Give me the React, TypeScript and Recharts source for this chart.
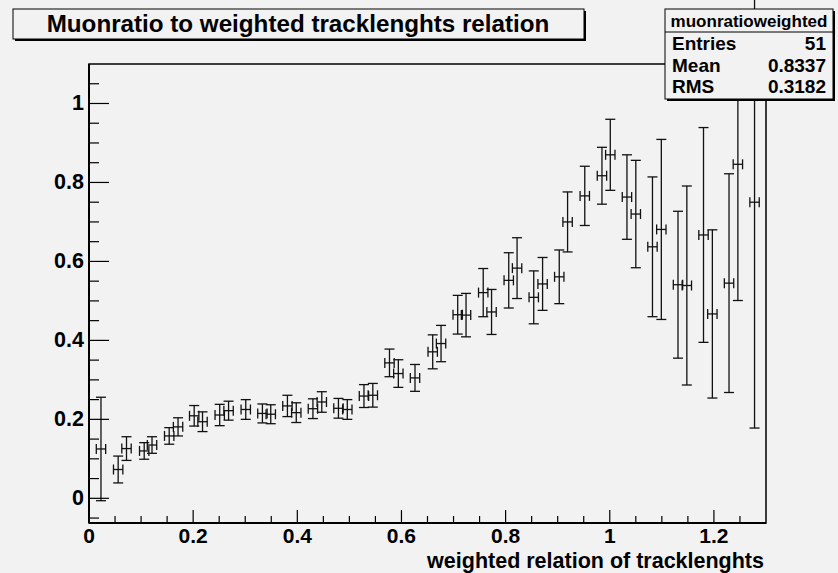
import React from 'react';
import { ComposedChart, Scatter, XAxis, YAxis, ErrorBar, ReferenceArea } from 'recharts';

const xValues = [0.023, 0.056, 0.072, 0.106, 0.121, 0.154, 0.171, 0.202, 0.218, 0.251, 0.268, 0.301, 0.333, 0.349, 0.381, 0.398, 0.430, 0.447, 0.479, 0.496, 0.528, 0.545, 0.577, 0.594, 0.626, 0.660, 0.676, 0.708, 0.724, 0.757, 0.773, 0.806, 0.822, 0.854, 0.871, 0.903, 0.919, 0.952, 0.985, 1.001, 1.033, 1.050, 1.082, 1.099, 1.131, 1.148, 1.180, 1.197, 1.229, 1.246, 1.278];
const yValues = [0.125, 0.073, 0.126, 0.120, 0.135, 0.158, 0.181, 0.209, 0.194, 0.211, 0.222, 0.225, 0.215, 0.213, 0.234, 0.217, 0.227, 0.244, 0.228, 0.225, 0.259, 0.261, 0.343, 0.316, 0.305, 0.371, 0.392, 0.465, 0.464, 0.521, 0.472, 0.552, 0.583, 0.509, 0.543, 0.561, 0.700, 0.766, 0.817, 0.870, 0.763, 0.720, 0.637, 0.681, 0.541, 0.539, 0.667, 0.467, 0.545, 0.846, 0.750];
const yErrors = [0.131, 0.034, 0.030, 0.021, 0.021, 0.021, 0.023, 0.026, 0.025, 0.027, 0.024, 0.025, 0.024, 0.024, 0.027, 0.025, 0.025, 0.026, 0.025, 0.025, 0.029, 0.030, 0.035, 0.035, 0.034, 0.043, 0.046, 0.049, 0.055, 0.061, 0.057, 0.070, 0.077, 0.067, 0.067, 0.068, 0.076, 0.075, 0.072, 0.090, 0.107, 0.136, 0.177, 0.228, 0.186, 0.252, 0.272, 0.213, 0.277, 0.345, 0.572];
const xError = 0.009;

const xTicks = [0, 0.05, 0.1, 0.15, 0.2, 0.25, 0.3, 0.35, 0.4, 0.45, 0.5, 0.55, 0.6, 0.65, 0.7, 0.75, 0.8, 0.85, 0.9, 0.95, 1, 1.05, 1.1, 1.15, 1.2, 1.25];
const yTicks = [-0.05, 0, 0.05, 0.1, 0.15, 0.2, 0.25, 0.3, 0.35, 0.4, 0.45, 0.5, 0.55, 0.6, 0.65, 0.7, 0.75, 0.8, 0.85, 0.9, 0.95, 1, 1.05];

const titleText = 'Muonratio to weighted tracklenghts relation';
const xAxisTitle = 'weighted relation of tracklenghts';
const statName = 'muonratioweighted';
const statRows = [
  ['Entries', '51'],
  ['Mean', '0.8337'],
  ['RMS', '0.3182'],
];

const data = xValues.map((x, i) => ({ x, y: yValues[i], ey: yErrors[i], ex: xError }));

const BG = '#f2f2f2';
const FONT = '"Liberation Sans", Arial, Helvetica, sans-serif';

const isMajor = (v: number) => Math.abs(v * 5 - Math.round(v * 5)) < 1e-6;
const fmt = (v: number) => String(Math.round(v * 10) / 10);

const YTick = (props: any) => {
  const { x, y, payload } = props;
  const v = payload.value;
  const major = isMajor(v);
  return (
    <g>
      <line x1={x} x2={x + (major ? 20 : 10)} y1={y} y2={y} stroke="#000" strokeWidth={1.2} />
      {major && (
        <text x={x - 5} y={y} textAnchor="end" dominantBaseline="central" fontFamily={FONT} fontWeight="bold" fontSize={21.5} fill="#000">
          {fmt(v)}
        </text>
      )}
    </g>
  );
};

const XTick = (props: any) => {
  const { x, y, payload } = props;
  const v = payload.value;
  const major = isMajor(v);
  return (
    <g>
      <line x1={x} x2={x} y1={y} y2={y - (major ? 13 : 7)} stroke="#000" strokeWidth={1.2} />
      {major && (
        <text x={x} y={y + 19.5} textAnchor="middle" fontFamily={FONT} fontWeight="bold" fontSize={21} fill="#000">
          {fmt(v)}
        </text>
      )}
    </g>
  );
};

const NoShape = () => <g />;

export default function App() {
  return (
    <div style={{ position: 'absolute', left: 0, top: 0, width: 838, height: 573, background: BG, overflow: 'hidden' }}>
      <style>{`.recharts-scatter { clip-path: url(#plotFrameClip); }`}</style>
      <svg width={0} height={0} style={{ position: 'absolute' }}>
        <defs>
          <clipPath id="plotFrameClip" clipPathUnits="userSpaceOnUse">
            <rect x={89} y={64} width={677} height={459} />
          </clipPath>
        </defs>
      </svg>
      <ComposedChart width={838} height={573} data={data} margin={{ top: 64, right: 72, bottom: 0, left: 0 }}>
        <XAxis
          dataKey="x"
          type="number"
          domain={[0, 1.3]}
          ticks={xTicks}
          interval={0}
          allowDataOverflow
          height={50}
          tickSize={0}
          tickMargin={0}
          tick={<XTick />}
          axisLine={{ stroke: '#000', strokeWidth: 2 }}
        />
        <YAxis
          dataKey="y"
          type="number"
          domain={[-0.0625, 1.1]}
          ticks={yTicks}
          interval={0}
          allowDataOverflow
          width={89}
          tickSize={0}
          tickMargin={0}
          tick={<YTick />}
          axisLine={{ stroke: '#000', strokeWidth: 2 }}
        />
        <ReferenceArea x1={0} x2={1.3} y1={-0.0625} y2={1.1} fill="none" stroke="#000" strokeWidth={1.5} />
        <Scatter dataKey="y" shape={<NoShape />} isAnimationActive={false}>
          <ErrorBar dataKey="ey" direction="y" width={5} stroke="#111" strokeWidth={1.3} isAnimationActive={false} />
          <ErrorBar dataKey="ex" direction="x" width={5} stroke="#111" strokeWidth={1.3} isAnimationActive={false} />
        </Scatter>
      </ComposedChart>
      <svg width={838} height={573} style={{ position: 'absolute', left: 0, top: 0, pointerEvents: 'none' }}>
        {/* title box */}
        <rect x={15} y={11} width={571} height={30} fill="#000" />
        <rect x={13} y={9} width={571} height={30} fill={BG} stroke="#000" strokeWidth={1} />
        <text x={298} y={32} textAnchor="middle" fontFamily={FONT} fontWeight="bold" fontSize={24.2} fill="#000">
          {titleText}
        </text>
        {/* stat box */}
        <rect x={667} y={11} width={168} height={90} fill="#000" />
        <rect x={665} y={9} width={168} height={90} fill={BG} stroke="#000" strokeWidth={1} />
        <line x1={665} x2={833} y1={32} y2={32} stroke="#000" strokeWidth={1} />
        <text x={749} y={27} textAnchor="middle" fontFamily={FONT} fontWeight="bold" fontSize={17} fill="#000">
          {statName}
        </text>
        {statRows.map((r, i) => (
          <g key={r[0]}>
            <text x={672} y={50 + i * 21.7} fontFamily={FONT} fontWeight="bold" fontSize={19} fill="#000">
              {r[0]}
            </text>
            <text x={826} y={50 + i * 21.7} textAnchor="end" fontFamily={FONT} fontWeight="bold" fontSize={19} fill="#000">
              {r[1]}
            </text>
          </g>
        ))}
        {/* x axis title */}
        <text x={764} y={567.5} textAnchor="end" fontFamily={FONT} fontWeight="bold" fontSize={21.5} fill="#000">
          {xAxisTitle}
        </text>
      </svg>
    </div>
  );
}
